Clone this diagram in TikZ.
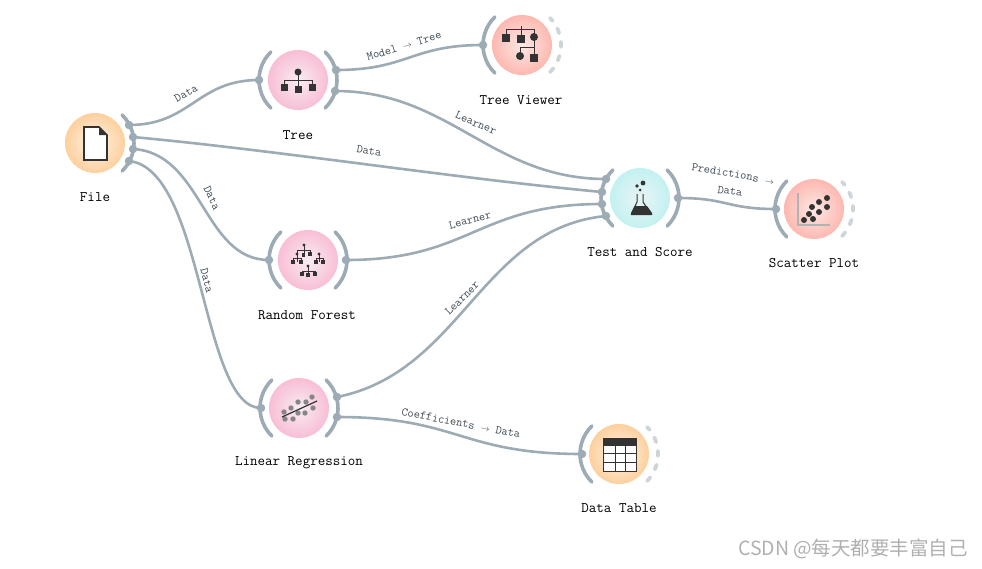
\documentclass[tikz,border=0pt]{standalone}
\usepackage{fontspec}
\usepackage{amsmath}
\usepackage{xcolor}
\newfontfamily\cjk{Noto Sans CJK SC}
\usetikzlibrary{positioning}
\definecolor{linkgray}{HTML}{9CABB4}
\definecolor{dashgray}{HTML}{CDD5D9}
\definecolor{icondark}{HTML}{333333}
\definecolor{iconpoint}{HTML}{868686}
\definecolor{labelgray}{HTML}{3F4A55}
\definecolor{markgray}{HTML}{B0B0B0}
\definecolor{pinkout}{HTML}{F8BED5}
\definecolor{pinkin}{HTML}{F9ECF2}
\definecolor{peachout}{HTML}{FDD09E}
\definecolor{peachin}{HTML}{FEF4E8}
\definecolor{aquaout}{HTML}{C4F1F1}
\definecolor{aquain}{HTML}{E8F4F5}
\definecolor{salmonout}{HTML}{FDB8B0}
\definecolor{salmonin}{HTML}{FDE8E5}
\tikzset{
    widget/.style={circle,minimum size=60pt,inner sep=0pt},
    portdot/.style={circle,fill=linkgray,inner sep=0pt,minimum size=8.5pt},
    bracket/.style={draw=linkgray,line width=3.6pt,line cap=round},
    waiting/.style={draw=dashgray,line width=3.8pt,line cap=round,dash pattern=on 5pt off 9pt},
    link/.style={draw=linkgray,line width=2.6pt},
    caption/.style={font=\ttfamily\fontsize{14.6}{14.6}\selectfont,inner sep=0pt},
    linklabel/.style={font=\ttfamily\fontsize{12}{12}\selectfont,text=labelgray,inner sep=0pt},
    glyph/.style={fill=icondark,inner sep=0pt,minimum size=7pt},
    knot/.style={circle,fill=icondark,inner sep=0pt,minimum size=7pt},
}
\newcommand{\linkarrow}{{\fontsize{9}{9}\selectfont$\rightarrow$}}

\begin{document}
\begin{tikzpicture}[x=1pt,y=1pt]
\useasboundingbox (0,0) rectangle (982,-568);
% widgets
\foreach \n/\x/\y/\cin/\cout in {
    file/95/143/peachin/peachout,
    tree/298/80/pinkin/pinkout,
    viewer/522/45/salmonin/salmonout,
    forest/308/260/pinkin/pinkout,
    regress/299/408/pinkin/pinkout,
    score/640/198/aquain/aquaout,
    scatter/814/209/salmonin/salmonout,
    table/619/454/peachin/peachout} {
    \node[widget,inner color=\cin,outer color=\cout] (\n) at (\x,-\y) {};
}
% channel brackets
\foreach \n in {tree,viewer,forest,regress,score,scatter,table} {
    \draw[bracket] (\n.center) ++(134:39) arc[start angle=134,end angle=226,radius=39];
}
\foreach \n in {file,tree,forest,regress,score} {
    \draw[bracket] (\n.center) ++(-46:39) arc[start angle=-46,end angle=46,radius=39];
}
\foreach \n in {viewer,scatter,table} {
    \draw[waiting] (\n.center) ++(-44:39) arc[start angle=-44,end angle=44,radius=39];
}
% ports
\foreach \n/\x/\y in {
    fileA/129/125,fileB/133/137,fileC/133/149,fileD/129/161,
    treein/259/80,treeA/336/70,treeB/335/91,
    viewerin/483/45,
    forestin/269/260,forestout/346/260,
    regressin/261/408,regressA/337/397,regressB/337/417,
    scoreA/606/179,scoreB/602/192,scoreC/602/204,scoreD/606/216,scoreout/678/198,
    scatterin/776/209,
    tablein/582/454} {
    \node[portdot] (\n) at (\x,-\y) {};
}
% links
\draw[link] (fileA.center) .. controls +(62,0) and +(-62,0) .. (treein.center);
\draw[link] (fileB.center) .. controls +(150,-14) and +(-150,14) .. (scoreB.center);
\draw[link] (fileC.center) .. controls +(70,-4) and +(-66,0) .. (forestin.center);
\draw[link] (fileD.center) .. controls +(75,-8) and +(-60,0) .. (regressin.center);
\draw[link] (treeA.center) .. controls +(72,0) and +(-72,0) .. (viewerin.center);
\draw[link] (treeB.center) .. controls +(115,0) and +(-115,0) .. (scoreA.center);
\draw[link] (forestout.center) .. controls +(125,0) and +(-125,0) .. (scoreC.center);
\draw[link] (regressA.center) .. controls +(125,25) and +(-125,-12) .. (scoreD.center);
\draw[link] (regressB.center) .. controls +(122,0) and +(-122,0) .. (tablein.center);
\draw[link] (scoreout.center) .. controls +(50,0) and +(-50,0) .. (scatterin.center);
% link labels
\node[linklabel,rotate=29] (ldataA) at (186,-93) {Data};
\node[linklabel,rotate=17] (lmodel) at (404,-46) {Model \linkarrow{} Tree};
\node[linklabel,rotate=-8] (ldataB) at (369,-151) {Data};
\node[linklabel,rotate=-23] (llearnA) at (476,-123) {Learner};
\node[linklabel,rotate=-65] (ldataC) at (212,-198) {Data};
\node[linklabel,rotate=-76] (ldataD) at (207,-281) {Data};
\node[linklabel,rotate=15] (llearnB) at (470,-220) {Learner};
\node[linklabel,rotate=45] (llearnC) at (462,-298) {Learner};
\node[linklabel,rotate=-10] (lpred) at (733,-174) {Predictions \linkarrow};
\node[linklabel,rotate=-7] (ldataE) at (730,-191) {Data};
\node[linklabel,rotate=-11] (lcoef) at (461,-423) {Coefficients \linkarrow{} Data};
% captions
\foreach \n/\x/\y/\t in {
    cfile/95/197/File,
    ctree/298/135/Tree,
    cviewer/521/100/Tree Viewer,
    cforest/307/315/Random Forest,
    cregress/299/462.5/Linear Regression,
    cscore/640/252/Test and Score,
    cscatter/814/263/Scatter Plot,
    ctable/619/508/Data Table} {
    \node[caption] (\n) at (\x,-\y) {\t};
}
% file icon
\draw[icondark,line width=1.6pt,fill=white] (84,-127) -- (99,-127) -- (107,-135) -- (107,-160) -- (84,-160) -- cycle;
\fill[icondark] (99,-127) -- (107,-135) -- (99,-135) -- cycle;
% tree icon
\draw[icondark,line width=0.9pt] (298,-72) -- (298,-89) (284,-87) -- (284,-80) -- (312,-80) -- (312,-87);
\node[knot] (tA) at (298,-72) {};
\foreach \n/\x/\y in {tB/284/87,tC/298/89,tD/312/87} {
    \node[glyph] (\n) at (\x,-\y) {};
}
% tree viewer icon
\draw[icondark,line width=0.9pt] (521,-26) -- (521,-39) (506,-38) -- (506,-29) -- (534,-29) -- (534,-60) (520,-60) -- (520,-47) -- (534,-47);
\foreach \n/\x/\y in {vA/506/38,vB/521/39,vC/534/58} {
    \node[glyph,minimum size=8.5pt] (\n) at (\x,-\y) {};
}
\foreach \n/\x/\y in {vD/534/37,vE/520/56} {
    \node[knot,minimum size=8pt] (\n) at (\x,-\y) {};
}
% forest icon
\draw[icondark,line width=0.5pt]
    (304,-245) -- (304,-254) (297,-254) -- (297,-250) -- (310,-250) -- (310,-254)
    (297,-254) -- (297,-262) (293,-262) -- (293,-258) -- (301,-258) -- (301,-262)
    (319,-254) -- (319,-262) (316,-262) -- (316,-258) -- (323,-258) -- (323,-262)
    (308,-266) -- (308,-275) (302,-274) -- (302,-271) -- (315,-271) -- (315,-274);
\foreach \n/\x/\y in {fA/303.5/255,fB/310/254,fC/293/262,fD/301/262,fE/316/262,fF/323/262,fG/302/274,fH/308/275,fI/315/274} {
    \node[glyph,minimum size=3.6pt] (\n) at (\x,-\y) {};
}
\foreach \n/\x/\y in {fJ/304/245,fK/297/254,fL/319/254,fM/308/266} {
    \node[knot,minimum size=3.4pt] (\n) at (\x,-\y) {};
}
% regression icon
\foreach \n/\x/\y in {rA/284/412,rB/291/408,rC/298/402,rD/306/402,rE/312/397,rF/313/408,rG/305/413,rH/298/413,rI/293/419,rJ/285/419} {
    \node[knot,fill=iconpoint,minimum size=5.4pt] (\n) at (\x,-\y) {};
}
\draw[icondark,line width=1.2pt] (282,-417) -- (317,-401);
% flask icon
\draw[icondark,line width=1pt] (637,-194) -- (637,-202) -- (631.5,-214) -- (651,-214) -- (643,-202) -- (643,-194);
\fill[icondark] (634.5,-206) -- (647,-206) -- (652,-213) -- (652,-215) -- (631,-215) -- (631,-213) -- cycle;
\foreach \n/\x/\y/\s in {bA/637/186/3.6,bB/643/183/4.8,bC/640/190/3} {
    \node[knot,minimum size=\s pt] (\n) at (\x,-\y) {};
}
% scatter icon
\draw[black!30,line width=1.3pt] (798,-193) -- (798,-225) -- (830,-225);
\foreach \n/\x/\y in {sA/804/220,sB/813/219,sC/809/214,sD/819/212,sE/812/207,sF/819/202,sG/827/198,sH/827/207} {
    \node[knot,minimum size=6pt] (\n) at (\x,-\y) {};
}
% table icon
\draw[icondark,line width=1pt,fill=white] (603,-438) rectangle (636,-471);
\fill[icondark] (603,-438) rectangle (636,-446);
\draw[icondark,line width=0.6pt] (615,-446) -- (615,-471) (625,-446) -- (625,-471) (603,-453) -- (636,-453) (603,-462) -- (636,-462);
% watermark
\node[inner sep=0pt,text=markgray,font=\cjk\fontsize{19.5}{19.5}\selectfont] (mark) at (853,-549) {CSDN @每天都要丰富自己};
\end{tikzpicture}
\end{document}
